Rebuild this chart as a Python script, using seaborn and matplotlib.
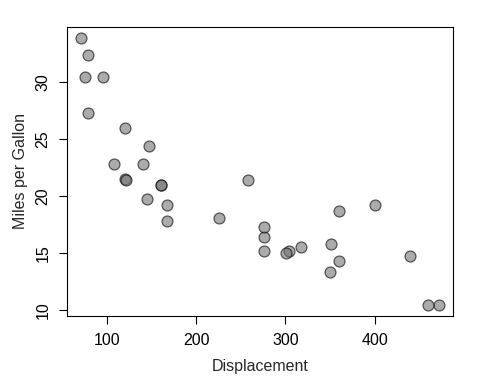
import pandas as pd
import matplotlib
matplotlib.use("Agg")
import matplotlib.pyplot as plt
import seaborn as sns

disp = [160, 160, 108, 258, 360, 225, 360, 146.7, 140.8, 167.6, 167.6, 275.8,
        275.8, 275.8, 472, 460, 440, 78.7, 75.7, 71.1, 120.1, 318, 304, 350,
        400, 79, 120.3, 95.1, 351, 145, 301, 121]
mpg = [21.0, 21.0, 22.8, 21.4, 18.7, 18.1, 14.3, 24.4, 22.8, 19.2, 17.8, 16.4,
       17.3, 15.2, 10.4, 10.4, 14.7, 32.4, 30.4, 33.9, 21.5, 15.5, 15.2, 13.3,
       19.2, 27.3, 26.0, 30.4, 15.8, 19.7, 15.0, 21.4]
x_ticks = [100, 200, 300, 400]
y_ticks = [10, 15, 20, 25, 30]

df = pd.DataFrame({"disp": disp, "mpg": mpg})

sns.set_style("ticks")
plt.rcParams["font.family"] = ["Liberation Sans", "DejaVu Sans"]

fig = plt.figure(figsize=(4.8, 3.84), dpi=100)
ax = fig.add_axes([0.1396, 0.177, 0.8044, 0.753])

sns.scatterplot(data=df, x="disp", y="mpg", ax=ax, s=62,
                color=(0.45, 0.45, 0.45), alpha=0.6, edgecolor="black",
                linewidth=0.9)

ax.set_xlim(55.06, 488.04)
ax.set_ylim(9.46, 34.84)
ax.set_xticks(x_ticks)
ax.set_yticks(y_ticks)
ax.set_yticklabels([str(v) for v in y_ticks], rotation=90, va="center")
ax.tick_params(direction="out", length=6, width=0.8, labelsize=11.5,
               colors="black", pad=6)
ax.set_xlabel("Displacement", fontsize=11.5, labelpad=8)
ax.set_ylabel("Miles per Gallon", fontsize=11.5, labelpad=5)
for sp in ax.spines.values():
    sp.set_visible(True)
    sp.set_color("black")
    sp.set_linewidth(0.8)
ax.grid(False)

fig.savefig("out.png", dpi=100)
